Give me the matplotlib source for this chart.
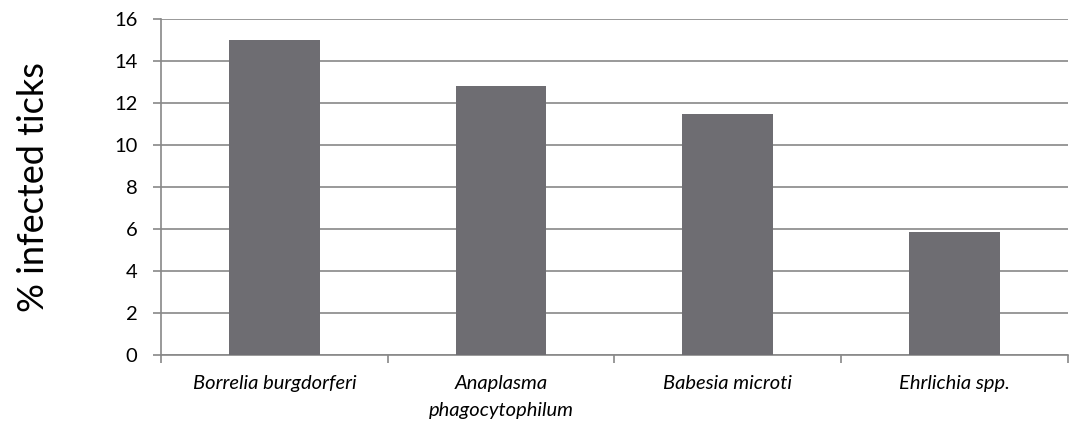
import matplotlib
matplotlib.use("Agg")
import matplotlib.pyplot as plt
import numpy as np

categories = ["Borrelia burgdorferi", "Anaplasma\nphagocytophilum", "Babesia microti", "Ehrlichia spp."]
values = [15.0, 12.8, 11.5, 5.87]
yticks = [0, 2, 4, 6, 8, 10, 12, 14, 16]

plt.rcParams['font.family'] = ['Lato', 'DejaVu Sans']

fig = plt.figure(figsize=(10.77, 4.33), dpi=100)
ax = fig.add_axes([0.1495, 0.180, 0.842, 0.776])

x = np.arange(len(categories))
ax.bar(x, values, width=0.4, color='#6e6d72', zorder=3)

ax.set_xlim(-0.5, len(categories) - 0.5)
ax.set_ylim(0, 16)
ax.set_yticks(yticks)
ax.set_yticklabels([str(t) for t in yticks], fontsize=14.5)
ax.yaxis.grid(True, color='#888888', linewidth=1.2, zorder=0)

ax.set_xticks(x)
ax.set_xticklabels(categories, fontsize=14.5, style='italic', linespacing=1.75)
ax.tick_params(axis='x', which='major', length=0, pad=14)
ax.set_xticks(np.arange(-0.5, len(categories)), minor=True)
ax.tick_params(axis='x', which='minor', length=6, color='#888888', width=1.2, direction='out')
ax.tick_params(axis='y', length=6, color='#888888', width=1.2, pad=11)

for s in ['top', 'right']:
    ax.spines[s].set_visible(False)
for s in ['left', 'bottom']:
    ax.spines[s].set_color('#888888')
    ax.spines[s].set_linewidth(1.2)

ax.set_ylabel('% infected ticks', fontsize=26)
ax.yaxis.set_label_coords(-0.122, 0.5)

fig.savefig('out.png', dpi=100)
